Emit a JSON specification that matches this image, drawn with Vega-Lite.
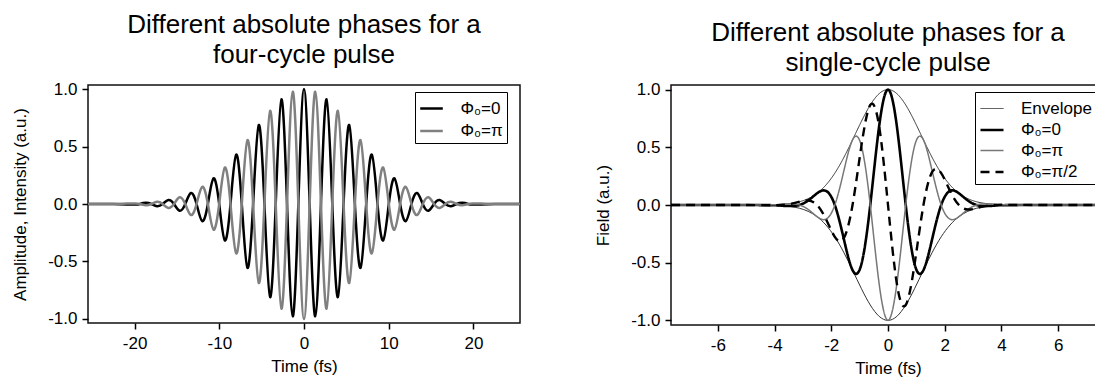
{
  "$schema": "https://vega.github.io/schema/vega-lite/v6.json",
  "padding": {"left": 10, "top": 11, "right": 0, "bottom": 0},
  "background": "white",
  "spacing": 72,
  "config": {
    "font": "Liberation Sans",
    "view": {"stroke": "#111", "strokeWidth": 1.5},
    "axis": {"labelFontSize": 17, "titleFontSize": 17, "titleFontWeight": "normal", "labelColor": "#000", "titleColor": "#000", "tickColor": "#000", "tickSize": 6, "tickWidth": 1.5, "grid": false, "domain": false, "labelFont": "Liberation Sans", "titleFont": "Liberation Sans", "labelExpr": "replace(datum.label, '\u2212', '-')"},
    "axisX": {"labelPadding": 6, "titlePadding": 7},
    "axisY": {"labelPadding": 5, "titlePadding": 18},
    "title": {"fontSize": 26, "fontWeight": "normal", "font": "Liberation Sans", "lineHeight": 30, "color": "#000"},
    "legend": {"labelFont": "Liberation Sans, DejaVu Sans", "labelFontSize": 17, "labelColor": "#000", "strokeColor": "#000", "fillColor": "#fff", "symbolType": "stroke"}
  },
  "resolve": {"scale": {"color": "independent", "strokeWidth": "independent", "strokeDash": "independent", "x": "independent", "y": "independent"}, "legend": {"color": "independent", "strokeWidth": "independent", "strokeDash": "independent"}},
  "hconcat": [
    {
      "width": 432,
      "height": 238,
      "title": {"text": ["Different absolute phases for a", "four-cycle pulse"], "offset": 12},
      "data": {"values": [
        {"t": -25.5, "p0": 0, "ppi": 0},
        {"t": -22.5, "p0": 0, "ppi": 0},
        {"t": -20.025, "p0": -0.0051, "ppi": 0.0051},
        {"t": -19.3575, "p0": 0, "ppi": 0},
        {"t": -18.69, "p0": 0.0101, "ppi": -0.0101},
        {"t": -18.0225, "p0": 0, "ppi": 0},
        {"t": -17.355, "p0": -0.019, "ppi": 0.019},
        {"t": -16.6875, "p0": 0, "ppi": 0},
        {"t": -16.02, "p0": 0.0342, "ppi": -0.0342},
        {"t": -15.3525, "p0": 0, "ppi": 0},
        {"t": -14.685, "p0": -0.0586, "ppi": 0.0586},
        {"t": -14.0175, "p0": 0, "ppi": 0},
        {"t": -13.35, "p0": 0.0958, "ppi": -0.0958},
        {"t": -12.6825, "p0": 0, "ppi": 0},
        {"t": -12.015, "p0": -0.1497, "ppi": 0.1497},
        {"t": -11.3475, "p0": 0, "ppi": 0},
        {"t": -10.68, "p0": 0.2229, "ppi": -0.2229},
        {"t": -10.0125, "p0": 0, "ppi": 0},
        {"t": -9.345, "p0": -0.3169, "ppi": 0.3169},
        {"t": -8.6775, "p0": 0, "ppi": 0},
        {"t": -8.01, "p0": 0.4299, "ppi": -0.4299},
        {"t": -7.3425, "p0": 0, "ppi": 0},
        {"t": -6.675, "p0": -0.5564, "ppi": 0.5564},
        {"t": -6.0075, "p0": 0, "ppi": 0},
        {"t": -5.34, "p0": 0.6871, "ppi": -0.6871},
        {"t": -4.6725, "p0": 0, "ppi": 0},
        {"t": -4.005, "p0": -0.8097, "ppi": 0.8097},
        {"t": -3.3375, "p0": 0, "ppi": 0},
        {"t": -2.67, "p0": 0.9105, "ppi": -0.9105},
        {"t": -2.0025, "p0": 0, "ppi": 0},
        {"t": -1.335, "p0": -0.9768, "ppi": 0.9768},
        {"t": -0.6675, "p0": 0, "ppi": 0},
        {"t": 0, "p0": 1, "ppi": -1},
        {"t": 0.6675, "p0": 0, "ppi": 0},
        {"t": 1.335, "p0": -0.9768, "ppi": 0.9768},
        {"t": 2.0025, "p0": 0, "ppi": 0},
        {"t": 2.67, "p0": 0.9105, "ppi": -0.9105},
        {"t": 3.3375, "p0": 0, "ppi": 0},
        {"t": 4.005, "p0": -0.8097, "ppi": 0.8097},
        {"t": 4.6725, "p0": 0, "ppi": 0},
        {"t": 5.34, "p0": 0.6871, "ppi": -0.6871},
        {"t": 6.0075, "p0": 0, "ppi": 0},
        {"t": 6.675, "p0": -0.5564, "ppi": 0.5564},
        {"t": 7.3425, "p0": 0, "ppi": 0},
        {"t": 8.01, "p0": 0.4299, "ppi": -0.4299},
        {"t": 8.6775, "p0": 0, "ppi": 0},
        {"t": 9.345, "p0": -0.3169, "ppi": 0.3169},
        {"t": 10.0125, "p0": 0, "ppi": 0},
        {"t": 10.68, "p0": 0.2229, "ppi": -0.2229},
        {"t": 11.3475, "p0": 0, "ppi": 0},
        {"t": 12.015, "p0": -0.1497, "ppi": 0.1497},
        {"t": 12.6825, "p0": 0, "ppi": 0},
        {"t": 13.35, "p0": 0.0958, "ppi": -0.0958},
        {"t": 14.0175, "p0": 0, "ppi": 0},
        {"t": 14.685, "p0": -0.0586, "ppi": 0.0586},
        {"t": 15.3525, "p0": 0, "ppi": 0},
        {"t": 16.02, "p0": 0.0342, "ppi": -0.0342},
        {"t": 16.6875, "p0": 0, "ppi": 0},
        {"t": 17.355, "p0": -0.019, "ppi": 0.019},
        {"t": 18.0225, "p0": 0, "ppi": 0},
        {"t": 18.69, "p0": 0.0101, "ppi": -0.0101},
        {"t": 19.3575, "p0": 0, "ppi": 0},
        {"t": 20.025, "p0": -0.0051, "ppi": 0.0051},
        {"t": 22.5, "p0": 0, "ppi": 0},
        {"t": 25.5, "p0": 0, "ppi": 0}
      ]},
      "transform": [{"fold": ["p0", "ppi"], "as": ["curve", "value"]}],
      "mark": {"type": "line", "interpolate": "natural", "clip": true, "strokeWidth": 2.5},
      "encoding": {
        "x": {"field": "t", "type": "quantitative", "scale": {"domain": [-25.5, 25.5], "nice": false, "zero": false}, "axis": {"title": "Time (fs)", "values": [-20, -10, 0, 10, 20]}},
        "y": {"field": "value", "type": "quantitative", "scale": {"domain": [-1.035, 1.035], "nice": false}, "axis": {"title": "Amplitude, Intensity (a.u.)", "values": [-1, -0.5, 0, 0.5, 1], "format": ".1f"}},
        "color": {"field": "curve", "type": "nominal", "scale": {"domain": ["p0", "ppi"], "range": ["#000000", "#808080"]},
          "legend": {"orient": "none", "legendX": 327, "legendY": 7, "title": null, "padding": 3.5, "symbolSize": 510, "symbolStrokeWidth": 2.5, "labelOffset": 16, "rowPadding": 1.5,
            "labelExpr": "datum.label == 'p0' ? 'Φ₀=0\u00a0\u00a0\u00a0' : 'Φ₀=π\u00a0\u00a0\u00a0'"}}
      }
    },
    {
      "width": 434,
      "height": 240,
      "title": {"text": ["Different absolute phases for a", "single-cycle pulse"], "offset": 5},
      "data": {"values": [
        {"t": -7.65, "env": 0, "lower": 0, "p0": 0, "ppi": 0, "phalf": 0},
        {"t": -5.5, "env": 0, "lower": 0, "p0": 0, "ppi": 0, "phalf": 0},
        {"t": -4.0625, "env": 0.0024, "lower": -0.0024, "p0": -0.0017, "ppi": 0.0017, "phalf": -0.0017},
        {"t": -3.75, "env": 0.0058, "lower": -0.0058, "p0": -0.0058, "ppi": 0.0058, "phalf": 0},
        {"t": -3.4375, "env": 0.0132, "lower": -0.0132, "p0": -0.0093, "ppi": 0.0093, "phalf": 0.0093},
        {"t": -3.125, "env": 0.028, "lower": -0.028, "p0": 0, "ppi": 0, "phalf": 0.028},
        {"t": -2.8125, "env": 0.0552, "lower": -0.0552, "p0": 0.039, "ppi": -0.039, "phalf": 0.039},
        {"t": -2.5, "env": 0.1013, "lower": -0.1013, "p0": 0.1013, "ppi": -0.1013, "phalf": 0},
        {"t": -2.1875, "env": 0.1733, "lower": -0.1733, "p0": 0.1225, "ppi": -0.1225, "phalf": -0.1225},
        {"t": -1.875, "env": 0.2759, "lower": -0.2759, "p0": 0, "ppi": 0, "phalf": -0.2759},
        {"t": -1.5625, "env": 0.4089, "lower": -0.4089, "p0": -0.2891, "ppi": 0.2891, "phalf": -0.2891},
        {"t": -1.25, "env": 0.5642, "lower": -0.5642, "p0": -0.5642, "ppi": 0.5642, "phalf": 0},
        {"t": -0.9375, "env": 0.7248, "lower": -0.7248, "p0": -0.5125, "ppi": 0.5125, "phalf": 0.5125},
        {"t": -0.625, "env": 0.8667, "lower": -0.8667, "p0": 0, "ppi": 0, "phalf": 0.8667},
        {"t": -0.3125, "env": 0.9649, "lower": -0.9649, "p0": 0.6823, "ppi": -0.6823, "phalf": 0.6823},
        {"t": 0, "env": 1, "lower": -1, "p0": 1, "ppi": -1, "phalf": 0},
        {"t": 0.3125, "env": 0.9649, "lower": -0.9649, "p0": 0.6823, "ppi": -0.6823, "phalf": -0.6823},
        {"t": 0.625, "env": 0.8667, "lower": -0.8667, "p0": 0, "ppi": 0, "phalf": -0.8667},
        {"t": 0.9375, "env": 0.7248, "lower": -0.7248, "p0": -0.5125, "ppi": 0.5125, "phalf": -0.5125},
        {"t": 1.25, "env": 0.5642, "lower": -0.5642, "p0": -0.5642, "ppi": 0.5642, "phalf": 0},
        {"t": 1.5625, "env": 0.4089, "lower": -0.4089, "p0": -0.2891, "ppi": 0.2891, "phalf": 0.2891},
        {"t": 1.875, "env": 0.2759, "lower": -0.2759, "p0": 0, "ppi": 0, "phalf": 0.2759},
        {"t": 2.1875, "env": 0.1733, "lower": -0.1733, "p0": 0.1225, "ppi": -0.1225, "phalf": 0.1225},
        {"t": 2.5, "env": 0.1013, "lower": -0.1013, "p0": 0.1013, "ppi": -0.1013, "phalf": 0},
        {"t": 2.8125, "env": 0.0552, "lower": -0.0552, "p0": 0.039, "ppi": -0.039, "phalf": -0.039},
        {"t": 3.125, "env": 0.028, "lower": -0.028, "p0": 0, "ppi": 0, "phalf": -0.028},
        {"t": 3.4375, "env": 0.0132, "lower": -0.0132, "p0": -0.0093, "ppi": 0.0093, "phalf": -0.0093},
        {"t": 3.75, "env": 0.0058, "lower": -0.0058, "p0": -0.0058, "ppi": 0.0058, "phalf": 0},
        {"t": 4.0625, "env": 0.0024, "lower": -0.0024, "p0": -0.0017, "ppi": 0.0017, "phalf": 0.0017},
        {"t": 5.5, "env": 0, "lower": 0, "p0": 0, "ppi": 0, "phalf": 0},
        {"t": 7.65, "env": 0, "lower": 0, "p0": 0, "ppi": 0, "phalf": 0}
      ]},
      "layer": [
        {
          "mark": {"type": "line", "interpolate": "natural", "clip": true, "color": "#333", "strokeWidth": 1},
          "encoding": {
            "x": {"field": "t", "type": "quantitative", "scale": {"domain": [-7.65, 7.65], "nice": false, "zero": false}, "axis": {"title": "Time (fs)", "values": [-6, -4, -2, 0, 2, 4, 6]}},
            "y": {"field": "lower", "type": "quantitative", "scale": {"domain": [-1.04, 1.04], "nice": false}, "axis": {"title": "Field (a.u.)", "values": [-1, -0.5, 0, 0.5, 1], "format": ".1f"}}
          }
        },
        {
          "transform": [{"fold": ["env", "p0", "ppi", "phalf"], "as": ["curve", "value"]}],
          "mark": {"type": "line", "interpolate": "natural", "clip": true},
          "encoding": {
            "x": {"field": "t", "type": "quantitative"},
            "y": {"field": "value", "type": "quantitative"},
            "color": {"field": "curve", "type": "nominal", "scale": {"domain": ["env", "p0", "ppi", "phalf"], "range": ["#333333", "#000000", "#777777", "#000000"]},
              "legend": {"orient": "none", "legendX": 304, "legendY": 7, "title": null, "padding": 4, "symbolSize": 530, "labelOffset": 16, "rowPadding": 0,
                "labelExpr": "datum.label == 'env' ? 'Envelope' : datum.label == 'p0' ? '\u00a0Φ₀=0' : datum.label == 'ppi' ? '\u00a0Φ₀=π' : '\u00a0Φ₀=π/2'"}},
            "strokeWidth": {"field": "curve", "type": "nominal", "scale": {"type": "ordinal", "domain": ["env", "p0", "ppi", "phalf"], "range": [1, 2.6, 1.5, 2.4]},
              "legend": {"orient": "none", "legendX": 304, "legendY": 7, "title": null, "padding": 4, "symbolSize": 530, "labelOffset": 16, "rowPadding": 0,
                "labelExpr": "datum.label == 'env' ? 'Envelope' : datum.label == 'p0' ? '\u00a0Φ₀=0' : datum.label == 'ppi' ? '\u00a0Φ₀=π' : '\u00a0Φ₀=π/2'"}},
            "strokeDash": {"field": "curve", "type": "nominal", "scale": {"domain": ["env", "p0", "ppi", "phalf"], "range": [[1, 0], [1, 0], [1, 0], [9, 6]]},
              "legend": {"orient": "none", "legendX": 304, "legendY": 7, "title": null, "padding": 4, "symbolSize": 530, "labelOffset": 16, "rowPadding": 0,
                "labelExpr": "datum.label == 'env' ? 'Envelope' : datum.label == 'p0' ? '\u00a0Φ₀=0' : datum.label == 'ppi' ? '\u00a0Φ₀=π' : '\u00a0Φ₀=π/2'"}}
          }
        }
      ]
    }
  ]
}
